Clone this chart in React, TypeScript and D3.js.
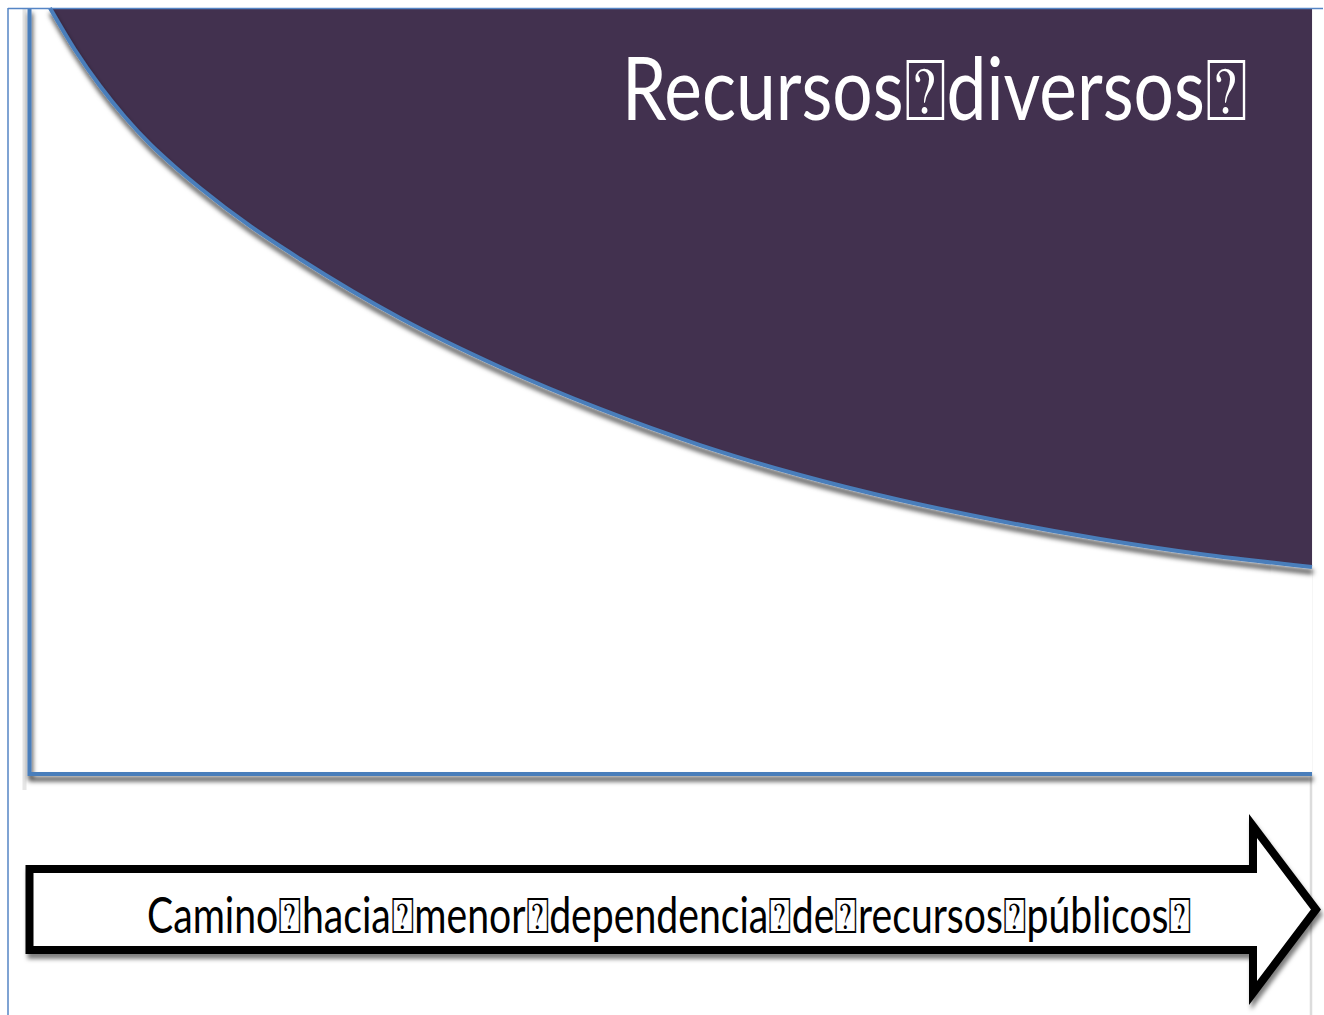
import React, { useLayoutEffect, useRef, useState } from 'react';
import * as d3 from 'd3';

const W = 1324;
const H = 1015;

// boundary of the "recursos diversos" region: progress along the path (%) vs depth in panel (%)
const progress = [1.71, 3.66, 5.61, 7.55, 9.5, 11.45, 13.4, 17.29, 21.18, 28.97, 36.76, 44.55, 52.34, 60.12, 67.91, 75.7, 83.49, 91.28, 100];
const boundary = [0, 5.48, 10.17, 14.21, 17.73, 20.73, 23.47, 28.42, 32.72, 40.42, 46.81, 52.28, 56.98, 60.89, 64.15, 66.88, 69.23, 71.19, 72.88];

const titleWords = ['Recursos', 'diversos'];
const captionWords = ['Camino', 'hacia', 'menor', 'dependencia', 'de', 'recursos', 'públicos'];

const TOFU = '\u2370';
const purple = '#42314f';
const blue = '#4a7ebb';

function Label({ words, x, y, width, size, fill }: {
  words: string[]; x: number; y: number; width: number; size: number; fill: string;
}) {
  const ref = useRef<SVGTextElement>(null);
  const [sx, setSx] = useState(1);
  useLayoutEffect(() => {
    const el = ref.current;
    if (!el) return;
    const w = el.getBBox().width;
    if (w > 0) setSx(width / w);
  }, [width]);
  return (
    <text ref={ref} transform={`translate(${x},${y}) scale(${sx},1)`} fontSize={size} fill={fill}>
      {words.map((w, i) => (
        <React.Fragment key={i}>
          <tspan>{w}</tspan>
          <tspan>{TOFU}</tspan>
        </React.Fragment>
      ))}
    </text>
  );
}

export default function App() {
  const x = d3.scaleLinear().domain([0, 100]).range([28, 1312]);
  const y = d3.scaleLinear().domain([0, 100]).range([8, 775]);

  const idx = d3.range(progress.length);
  const area = d3.area<number>()
    .x(i => x(progress[i]))
    .y0(y(0))
    .y1(i => y(boundary[i]))
    .curve(d3.curveMonotoneX);
  const line = d3.line<number>()
    .x(i => x(progress[i]))
    .y(i => y(boundary[i]))
    .curve(d3.curveMonotoneX);

  const boxL = 29.5, boxB = 774, boxR = 1312;

  // arrow outline (stroke centre)
  const ax0 = 29.5, ax1 = 1253, top = 869, bot = 950, headTop = 826, headBot = 993, tip = 1316;
  const arrow = [
    [ax0, top], [ax1, top], [ax1, headTop], [tip, (top + bot) / 2],
    [ax1, headBot], [ax1, bot], [ax0, bot]
  ];

  return (
    <svg width={W} height={H} style={{ position: 'absolute', left: 0, top: 0, background: '#fff' }}
      fontFamily="Lato, 'Open Sans', sans-serif">
      <defs>
        <filter id="shadow" x="-10%" y="-10%" width="120%" height="130%">
          <feDropShadow dx={2} dy={5} stdDeviation={2.2} floodColor="#000" floodOpacity={0.5} />
        </filter>
        <filter id="lineShadow" x="-5%" y="-20%" width="110%" height="140%">
          <feDropShadow dx={1} dy={5} stdDeviation={2.4} floodColor="#000" floodOpacity={0.8} />
        </filter>
      </defs>

      <line x1={1311} x2={1311} y1={8} y2={H} stroke="#dcdcdc" strokeWidth={2.5} />
      <line x1={24.5} x2={24.5} y1={8} y2={790} stroke="#e6e6e6" strokeWidth={4} />

      <rect x={boxL} y={8} width={boxR - boxL} height={boxB - 8} fill="#fff" />
      <path d={`M${boxL},8V${boxB}H${boxR}`} fill="none" stroke={blue} strokeWidth={4}
        filter="url(#lineShadow)" />

      <path d={area(idx) || ''} fill={purple} />
      <path d={line(idx) || ''} fill="none" stroke={blue} strokeWidth={4} filter="url(#lineShadow)" />
      <Label words={titleWords} x={622} y={120} width={625} size={87} fill="#fff" />

      <line x1={8} x2={1323} y1={8.5} y2={8.5} stroke="#5585c5" strokeWidth={1.5} />
      <line x1={8} x2={8} y1={8} y2={H} stroke="#5585c5" strokeWidth={1.5} />

      <polygon points={arrow.map(p => p.join(',')).join(' ')} fill="#fff" stroke="#000" strokeWidth={8}
        strokeLinejoin="miter" strokeMiterlimit={10} filter="url(#shadow)" />
      <Label words={captionWords} x={147} y={933} width={1045} size={50} fill="#000" />
    </svg>
  );
}
